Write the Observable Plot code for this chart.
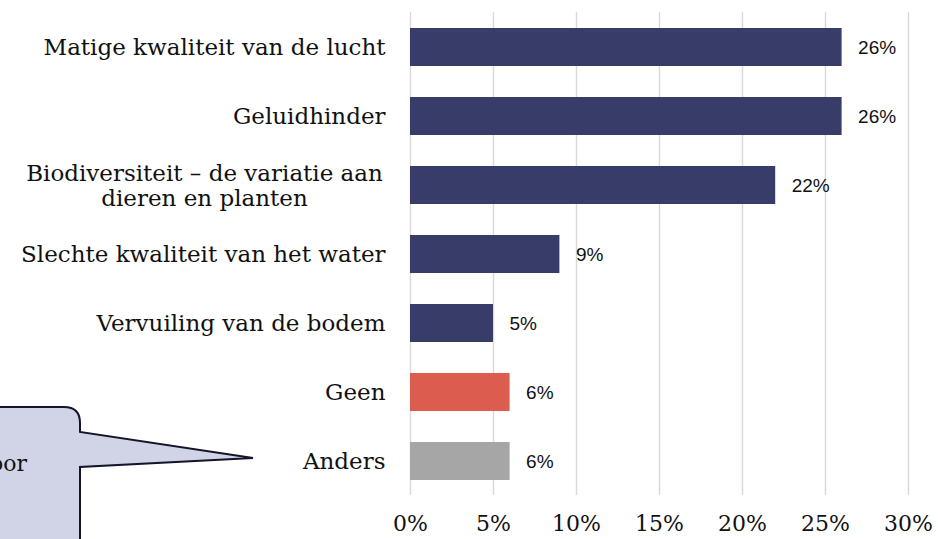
<!DOCTYPE html>
<html>
<head>
<meta charset="utf-8">
<script src="https://cdn.jsdelivr.net/npm/d3@7"></script>
<script src="https://cdn.jsdelivr.net/npm/@observablehq/plot@0.6"></script>
<style>
  html, body { margin: 0; padding: 0; background: #fff; }
  #chart { width: 938px; height: 539px; overflow: hidden; }
</style>
</head>
<body>
<div id="chart"></div>
<script>
const categories = [
  "Matige kwaliteit van de lucht",
  "Geluidhinder",
  "Biodiversiteit – de variatie aan\ndieren en planten",
  "Slechte kwaliteit van het water",
  "Vervuiling van de bodem",
  "Geen",
  "Anders"
];
const values = [26, 26, 22, 9, 5, 6, 6];
const barColors = ["#383c69", "#383c69", "#383c69", "#383c69", "#383c69", "#dc5c50", "#a6a6a6"];
const xTicks = [0, 5, 10, 15, 20, 25, 30];
const calloutText = "Gemiddeld genoemd door";

const data = categories.map((c, i) => ({label: c, value: values[i], color: barColors[i]}));
const serif = "'DejaVu Serif', 'Liberation Serif', serif";
const sans = "'Liberation Sans', Arial, sans-serif";

const chart = Plot.plot({
  width: 938,
  height: 539,
  marginLeft: 410,
  marginRight: 30,
  marginTop: 12,
  marginBottom: 44,
  style: {fontFamily: serif, background: "white", overflow: "visible"},
  x: {domain: [0, 30], ticks: xTicks, tickFormat: d => d + "%"},
  y: {domain: categories, paddingInner: 0.45, paddingOuter: 0.225, axis: null},
  marks: [
    Plot.ruleX(xTicks, {stroke: "#d9d9d9", strokeWidth: 1.4}),
    Plot.barX(data, {x: "value", y: "label", fill: "color"}),
    Plot.text(data, {x: "value", y: "label", text: d => d.value + "%", textAnchor: "start", dx: 16, fontSize: 19, fontFamily: sans, fill: "#111"}),
    Plot.text(data.filter(d => !d.label.includes("\n")), {x: 0, y: "label", text: "label", textAnchor: "end", dx: -25, fontSize: 23, fill: "#111", fontFamily: serif}),
    Plot.text(data.filter(d => d.label.includes("\n")), {x: 0, y: "label", text: "label", textAnchor: "middle", dx: -206, fontSize: 23, fill: "#111", fontFamily: serif, lineHeight: 1.1}),
    Plot.axisX({ticks: xTicks, tickFormat: d => d + "%", tickSize: 0, tickPadding: 20, fontSize: 22, fontFamily: serif, fill: "#111", label: null})
  ]
});

document.getElementById("chart").appendChild(chart);

// Callout annotation (speech bubble), partially cut off at the left edge
const svg = d3.select(chart);
const g = svg.append("g");
const r = 16;
const path = [
  "M -200 407",
  `L ${80 - r} 407`,
  `Q 80 407 80 ${407 + r}`,
  "L 80 432",
  "L 253 458",
  "L 80 467",
  "L 80 600",
  "L -200 600 Z"
].join(" ");
g.append("path").attr("d", path).attr("fill", "#d1d4e7").attr("stroke", "#14142a").attr("stroke-width", 2).attr("stroke-linejoin", "miter");
g.append("text").attr("x", 27).attr("y", 471).attr("text-anchor", "end")
  .attr("font-family", serif).attr("font-size", 22).attr("fill", "#111").text(calloutText);
</script>
</body>
</html>
